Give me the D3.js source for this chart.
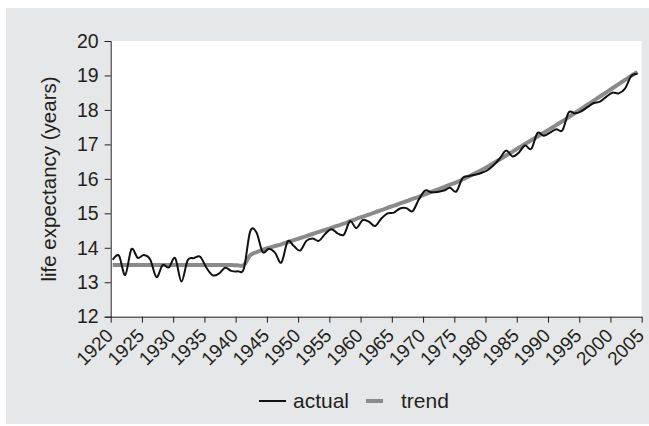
<!DOCTYPE html>
<html><head><meta charset="utf-8">
<script src="https://cdn.jsdelivr.net/npm/d3@7/dist/d3.min.js"></script>
<style>
body{margin:0;background:#fff}
text{font-family:"Liberation Sans",Arial,Helvetica,sans-serif;fill:#231f20}
</style>
</head><body>
<svg id="chart" width="649" height="426"></svg>
<script>
// ---------- data ----------
const years = [1920,1921,1922,1923,1924,1925,1926,1927,1928,1929,
  1930,1931,1932,1933,1934,1935,1936,1937,1938,1939,
  1940,1941,1942,1943,1944,1945,1946,1947,1948,1949,
  1950,1951,1952,1953,1954,1955,1956,1957,1958,1959,
  1960,1961,1962,1963,1964,1965,1966,1967,1968,1969,
  1970,1971,1972,1973,1974,1975,1976,1977,1978,1979,
  1980,1981,1982,1983,1984,1985,1986,1987,1988,1989,
  1990,1991,1992,1993,1994,1995,1996,1997,1998,1999,
  2000,2001,2002,2003,2004];
const actual = [13.65,13.77,13.21,13.96,13.71,13.79,13.66,13.15,13.50,13.43,
  13.70,13.02,13.64,13.70,13.74,13.42,13.20,13.25,13.42,13.33,
  13.32,13.40,14.47,14.45,13.88,13.97,13.85,13.57,14.18,14.05,
  13.92,14.20,14.27,14.20,14.40,14.54,14.42,14.38,14.77,14.57,
  14.80,14.76,14.63,14.85,15.00,15.02,15.14,15.15,15.06,15.40,
  15.66,15.61,15.62,15.66,15.74,15.63,16.02,16.08,16.12,16.17,
  16.25,16.40,16.60,16.82,16.65,16.76,16.97,16.87,17.33,17.25,
  17.34,17.44,17.41,17.93,17.90,17.96,18.08,18.20,18.24,18.38,
  18.50,18.48,18.62,18.98,19.05];
const trend = [13.5,13.5,13.5,13.5,13.5,13.5,13.5,13.5,13.5,13.5,
  13.5,13.5,13.5,13.5,13.5,13.5,13.5,13.5,13.5,13.5,
  13.49,13.50,13.78,13.87,13.94,14.00,14.05,14.10,14.16,14.22,
  14.28,14.34,14.40,14.46,14.52,14.58,14.64,14.70,14.77,14.84,
  14.90,14.96,15.03,15.09,15.16,15.22,15.29,15.35,15.42,15.48,
  15.55,15.62,15.69,15.76,15.83,15.90,15.98,16.07,16.16,16.25,
  16.35,16.46,16.57,16.68,16.79,16.90,17.01,17.12,17.23,17.34,
  17.45,17.56,17.67,17.79,17.91,18.03,18.15,18.27,18.39,18.51,
  18.63,18.75,18.87,18.99,19.10];
const xTickLabels = ["1920","1925","1930","1935","1940","1945","1950","1955","1960",
  "1965","1970","1975","1980","1985","1990","1995","2000","2005"];
const yTickValues = [12,13,14,15,16,17,18,19,20];
const seriesNames = ["actual","trend"];
const yAxisTitle = "life expectancy (years)";

// ---------- layout ----------
const svg = d3.select("#chart");
const L = 110.7, R = 641.7, T = 41, B = 316.7;
const pointShift = 0.32; // points sit slightly right of the year tick

svg.append("rect").attr("x",6).attr("y",8).attr("width",643).attr("height",416).attr("fill","#e6e7e8");
svg.append("rect").attr("x",L).attr("y",T).attr("width",R-L).attr("height",B-T).attr("fill","#ffffff");

const x = d3.scaleLinear().domain([1920,2005]).range([L,R]);
const y = d3.scaleLinear().domain([12,20]).range([B,T]);

// y axis
const yAxis = svg.append("g").attr("transform",`translate(${L},0)`)
  .call(d3.axisLeft(y).tickValues(yTickValues).tickFormat(d3.format("d")).tickSize(6).tickPadding(6));
yAxis.selectAll("text").style("font-size","19.5px").attr("fill","#231f20");
yAxis.selectAll("line, path").attr("stroke","#231f20");

// x axis
const xAxis = svg.append("g").attr("transform",`translate(0,${B})`)
  .call(d3.axisBottom(x).tickValues(xTickLabels.map(Number)).tickFormat(d=>String(d)).tickSize(6).tickSizeOuter(0));
xAxis.selectAll("line, path").attr("stroke","#231f20");
xAxis.selectAll("text")
  .style("font-size","19px").attr("fill","#231f20")
  .attr("text-anchor","end").attr("dy",null).attr("y",null)
  .attr("transform","translate(3,20) rotate(-45)");

// y title
svg.append("text").attr("transform","translate(56,179) rotate(-90)")
  .attr("text-anchor","middle").style("font-size","20.5px").text(yAxisTitle);

// lines
const data = years.map((yr,i)=>({yr, a:actual[i], t:trend[i]}));
const lineT = d3.line().x(d=>x(d.yr+pointShift)).y(d=>y(d.t)).curve(d3.curveCardinal.tension(0));
const lineA = d3.line().x(d=>x(d.yr+pointShift)).y(d=>y(d.a)).curve(d3.curveCardinal.tension(0));
svg.append("path").datum(data).attr("d",lineT).attr("fill","none").attr("stroke","#8a8a8a").attr("stroke-width",4);
svg.append("path").datum(data).attr("d",lineA).attr("fill","none").attr("stroke","#111").attr("stroke-width",2);

// legend
const lg = svg.append("g");
lg.append("line").attr("x1",259).attr("x2",286).attr("y1",401).attr("y2",401).attr("stroke","#111").attr("stroke-width",2);
lg.append("text").attr("x",293).attr("y",408).style("font-size","21px").text(seriesNames[0]);
lg.append("line").attr("x1",366).attr("x2",383).attr("y1",401).attr("y2",401).attr("stroke","#8a8a8a").attr("stroke-width",4);
lg.append("text").attr("x",401).attr("y",408).style("font-size","21px").text(seriesNames[1]);
</script>
</body></html>
